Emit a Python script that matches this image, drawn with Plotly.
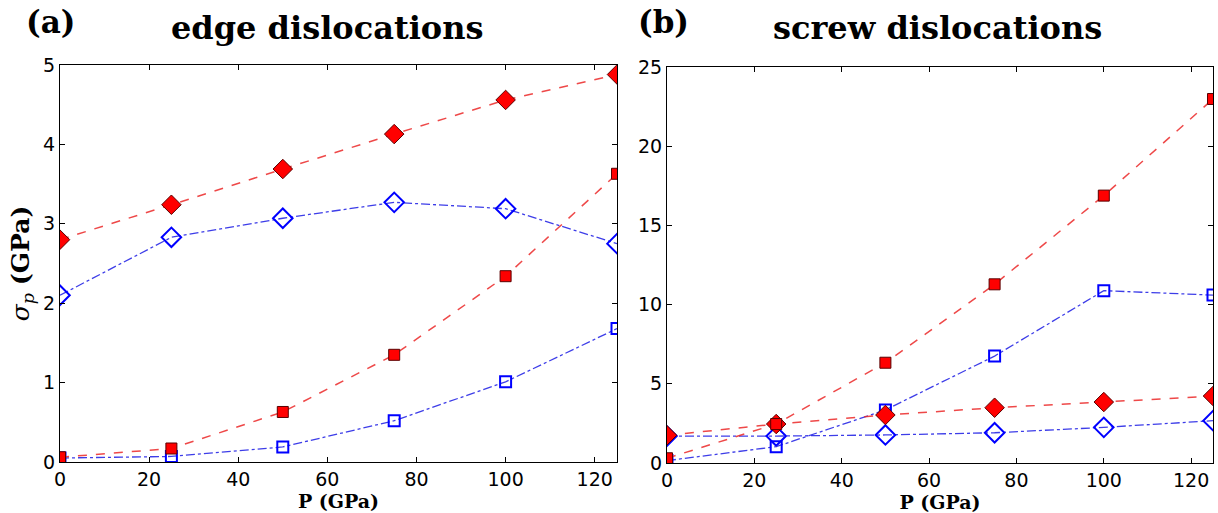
import plotly.graph_objects as go

P = [0, 25, 50, 75, 100, 125]

# panel (a) edge dislocations
edge_red_diamond = [2.80, 3.24, 3.69, 4.13, 4.56, 4.88]
edge_blue_diamond = [2.10, 2.83, 3.07, 3.27, 3.19, 2.75]
edge_red_square = [0.06, 0.17, 0.63, 1.35, 2.34, 3.63]
edge_blue_square = [0.05, 0.07, 0.19, 0.52, 1.01, 1.68]

# panel (b) screw dislocations
screw_red_square = [0.3, 2.46, 6.33, 11.28, 16.88, 22.98]
screw_blue_square = [0.15, 1.03, 3.35, 6.75, 10.88, 10.6]
screw_red_diamond = [1.75, 2.46, 3.03, 3.49, 3.85, 4.23]
screw_blue_diamond = [1.7, 1.7, 1.77, 1.91, 2.25, 2.67]

x_ticks = [0, 20, 40, 60, 80, 100, 120]
edge_y_ticks = [0, 1, 2, 3, 4, 5]
screw_y_ticks = [0, 5, 10, 15, 20, 25]

RED_LINE = "rgba(235,40,40,0.85)"
BLUE_LINE = "rgba(40,40,230,0.9)"

fig = go.Figure()


def red_trace(y, symbol, size, xa, ya):
    return go.Scatter(
        x=P, y=y, mode="lines+markers", xaxis=xa, yaxis=ya,
        line=dict(color=RED_LINE, width=1.5, dash="dash"),
        marker=dict(symbol=symbol, size=size, color="#ff0000",
                    line=dict(color="#5a0000", width=1)),
        showlegend=False,
    )


def blue_trace(y, symbol, size, xa, ya):
    return go.Scatter(
        x=P, y=y, mode="lines+markers", xaxis=xa, yaxis=ya,
        line=dict(color=BLUE_LINE, width=1.3, dash="dashdot"),
        marker=dict(symbol=symbol, size=size, color="#0000ff",
                    line=dict(color="#0000ff", width=2)),
        showlegend=False,
    )


fig.add_trace(blue_trace(edge_blue_diamond, "diamond-open", 15, "x", "y"))
fig.add_trace(blue_trace(edge_blue_square, "square-open", 11, "x", "y"))
fig.add_trace(red_trace(edge_red_diamond, "diamond", 15, "x", "y"))
fig.add_trace(red_trace(edge_red_square, "square", 11, "x", "y"))

fig.add_trace(blue_trace(screw_blue_diamond, "diamond-open", 15, "x2", "y2"))
fig.add_trace(blue_trace(screw_blue_square, "square-open", 11, "x2", "y2"))
fig.add_trace(red_trace(screw_red_diamond, "diamond", 15, "x2", "y2"))
fig.add_trace(red_trace(screw_red_square, "square", 11, "x2", "y2"))

tickfont = dict(family="DejaVu Sans", size=19, color="black")
axis_common = dict(
    showgrid=False, zeroline=False, showline=True, linecolor="black",
    linewidth=1.2, mirror="ticks", ticks="inside", ticklen=5,
    tickcolor="black", tickwidth=1, tickfont=tickfont, automargin=False,
)

xtitle = dict(text="<b>P (GPa)</b>",
              font=dict(family="DejaVu Serif", size=19, color="black"),
              standoff=2)

fig.update_layout(
    width=1218, height=513,
    margin=dict(l=0, r=0, t=0, b=0),
    paper_bgcolor="white", plot_bgcolor="white",
    xaxis=dict(domain=[60 / 1218, 617 / 1218], range=[0, 125],
               tickvals=x_ticks, title=xtitle, anchor="y", **axis_common),
    yaxis=dict(domain=[1 - 462 / 513, 1 - 65 / 513], range=[0, 5],
               tickvals=edge_y_ticks, anchor="x",
               title=dict(text="<i>σ</i><sub><i>p</i></sub> <b>(GPa)</b>",
                          font=dict(family="DejaVu Serif", size=25, color="black"),
                          standoff=6),
               **axis_common),
    xaxis2=dict(domain=[667 / 1218, 1213 / 1218], range=[0, 125],
                tickvals=x_ticks, title=xtitle, anchor="y2", **axis_common),
    yaxis2=dict(domain=[1 - 463 / 513, 1 - 67 / 513], range=[0, 25],
                tickvals=screw_y_ticks, anchor="x2", **axis_common),
)

title_font = dict(family="DejaVu Serif", size=32, color="black")
label_font = dict(family="DejaVu Serif", size=31, color="black")
annos = [
    dict(text="<b>(a)</b>", x=24 / 1218, y=1 - 22 / 513, font=label_font,
         xanchor="left"),
    dict(text="<b>edge dislocations</b>", x=327 / 1218, y=1 - 28 / 513,
         font=title_font, xanchor="center"),
    dict(text="<b>(b)</b>", x=636 / 1218, y=1 - 22 / 513, font=label_font,
         xanchor="left"),
    dict(text="<b>screw dislocations</b>", x=937 / 1218, y=1 - 28 / 513,
         font=title_font, xanchor="center"),
]
for a in annos:
    fig.add_annotation(xref="paper", yref="paper", showarrow=False,
                       yanchor="middle", **a)

fig.write_html("out.html")
